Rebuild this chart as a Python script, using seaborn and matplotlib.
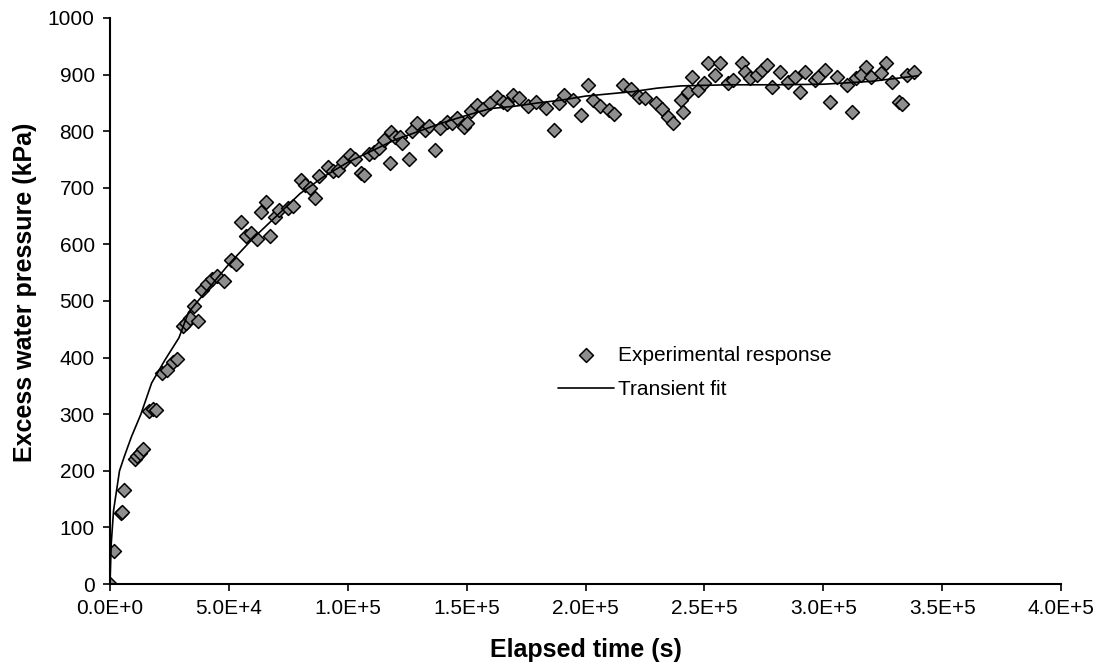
import numpy as np
import pandas as pd
import matplotlib
matplotlib.use("Agg")
import matplotlib.pyplot as plt
import seaborn as sns

# ---- data (time in seconds, pressure in kPa) ----
exp_time_k = [0, 1.7, 4.5, 5.0, 6.0, 10.5, 11.5, 12.5, 14, 16.5, 18, 19.5, 22, 24, 26.5, 28,
              30.5, 32, 33.5, 35.5, 37, 38.5, 41, 43, 45, 48, 51, 53, 55, 57, 59.5, 62, 63.5,
              65.5, 67.3, 69.4, 71, 74.8, 77, 80.3, 82, 84, 86.1, 88, 91.6, 94, 95.7, 98, 101,
              103, 105.4, 107, 109, 111.2, 113, 115.4, 117.9, 118, 120, 122, 123, 125.8, 127,
              129.2, 132.5, 134, 136.7, 139, 141.7, 144, 146, 148.8, 150, 152, 154.3, 157,
              159.7, 162.6, 165.5, 167, 169.7, 172, 176, 179.3, 183.5, 186.8, 189, 191, 194.8,
              198.2, 201, 203, 206, 209.9, 212, 215.7, 219, 222.4, 225, 229.5, 232, 234.9,
              236.6, 240, 240.8, 243, 245, 247.5, 250, 251.7, 254.6, 256.7, 260, 262, 265.9,
              267, 269.2, 272, 274.2, 276.3, 278.4, 281.8, 285.1, 288, 290.1, 292.2, 296.4,
              298, 300.6, 302.7, 305.6, 309.8, 312.3, 313.9, 316, 318.1, 320.2, 324.4, 326.5,
              329, 331.9, 333, 335.3, 338]
exp_pressure = [0, 58, 125, 128, 166, 220, 226, 232, 238, 305, 310, 308, 372, 378, 392, 397,
                455, 462, 470, 492, 465, 520, 530, 538, 545, 535, 572, 565, 640, 615, 620, 610,
                658, 675, 614, 649, 660, 665, 668, 714, 705, 700, 682, 720, 737, 730, 732, 745,
                758, 750, 727, 722, 760, 764, 770, 785, 744, 799, 790, 790, 780, 750, 800, 815,
                802, 810, 767, 805, 817, 815, 823, 808, 815, 835, 847, 840, 850, 861, 852, 848,
                864, 858, 845, 852, 841, 802, 850, 864, 855, 829, 882, 855, 845, 838, 830, 882,
                875, 861, 858, 850, 840, 825, 815, 855, 834, 870, 896, 873, 885, 921, 900, 921,
                885, 890, 921, 905, 894, 900, 908, 917, 878, 905, 887, 895, 869, 905, 890, 895,
                908, 852, 896, 882, 834, 894, 900, 914, 896, 903, 921, 887, 852, 848, 900, 905]

fit_time_k = [0, 0.5, 1.5, 4, 6, 9, 13, 17.5, 23, 29, 33, 40, 50, 60, 70, 80, 90, 100, 110,
              120, 130, 140, 150, 160, 170, 180, 190, 200, 210, 220, 230, 240, 260, 280, 300,
              320, 340]
fit_pressure = [0, 70, 130, 200, 225, 260, 300, 355, 395, 435, 480, 515, 565, 610, 650, 690,
                720, 745, 765, 785, 800, 815, 828, 840, 844, 850, 855, 862, 866, 870, 876, 880,
                882, 882, 883, 888, 898]

x_ticks = [0, 50000, 100000, 150000, 200000, 250000, 300000, 350000, 400000]
x_tick_labels = ["0.0E+0", "5.0E+4", "1.0E+5", "1.5E+5", "2.0E+5", "2.5E+5", "3.0E+5",
                 "3.5E+5", "4.0E+5"]
y_ticks = [0, 100, 200, 300, 400, 500, 600, 700, 800, 900, 1000]

exp_df = pd.DataFrame({"t": np.array(exp_time_k) * 1000.0, "p": exp_pressure})
fit_df = pd.DataFrame({"t": np.array(fit_time_k) * 1000.0, "p": fit_pressure})

sns.set_theme(style="white")
plt.rcParams["font.family"] = ["Liberation Sans", "DejaVu Sans"]
plt.rcParams["text.color"] = "black"
plt.rcParams["axes.labelcolor"] = "black"

fig = plt.figure(figsize=(10.95, 6.67), dpi=100)
ax = fig.add_axes([110 / 1095, (667 - 584) / 667, 951 / 1095, 566 / 667])

sns.lineplot(data=fit_df, x="t", y="p", ax=ax, color="black", linewidth=1.2,
             label="Transient fit", zorder=3, estimator=None, sort=False)
sns.scatterplot(data=exp_df, x="t", y="p", ax=ax, marker="D", s=50,
                color="#8e8e8e", edgecolor="black", linewidth=1.1,
                label="Experimental response", zorder=2)

ax.set_xlim(0, 400000)
ax.set_ylim(0, 1000)
ax.set_xticks(x_ticks)
ax.set_xticklabels(x_tick_labels)
ax.set_yticks(y_ticks)
ax.tick_params(axis="both", direction="out", length=5, width=1.2, colors="black",
               labelsize=15, pad=6, bottom=True, left=True)
for side in ["top", "right"]:
    ax.spines[side].set_visible(False)
for side in ["left", "bottom"]:
    ax.spines[side].set_color("black")
    ax.spines[side].set_linewidth(1.5)

ax.set_xlabel("Elapsed time (s)", fontsize=18, fontweight="bold", labelpad=14,
              color="black")
ax.set_ylabel("Excess water pressure (kPa)", fontsize=18, fontweight="bold",
              color="black")
ax.yaxis.set_label_coords(-0.077, 0.516)

handles, labels = ax.get_legend_handles_labels()
order = [labels.index("Experimental response"), labels.index("Transient fit")]
leg = ax.legend([handles[i] for i in order], [labels[i] for i in order],
                loc="upper left", bbox_to_anchor=(539 / 1095, 1 - 327 / 667),
                bbox_transform=fig.transFigure, frameon=False, fontsize=15,
                handlelength=2.7, handletextpad=0.2, labelspacing=0.75)
for txt in leg.get_texts():
    txt.set_color("black")

fig.savefig("out.png", dpi=100)
